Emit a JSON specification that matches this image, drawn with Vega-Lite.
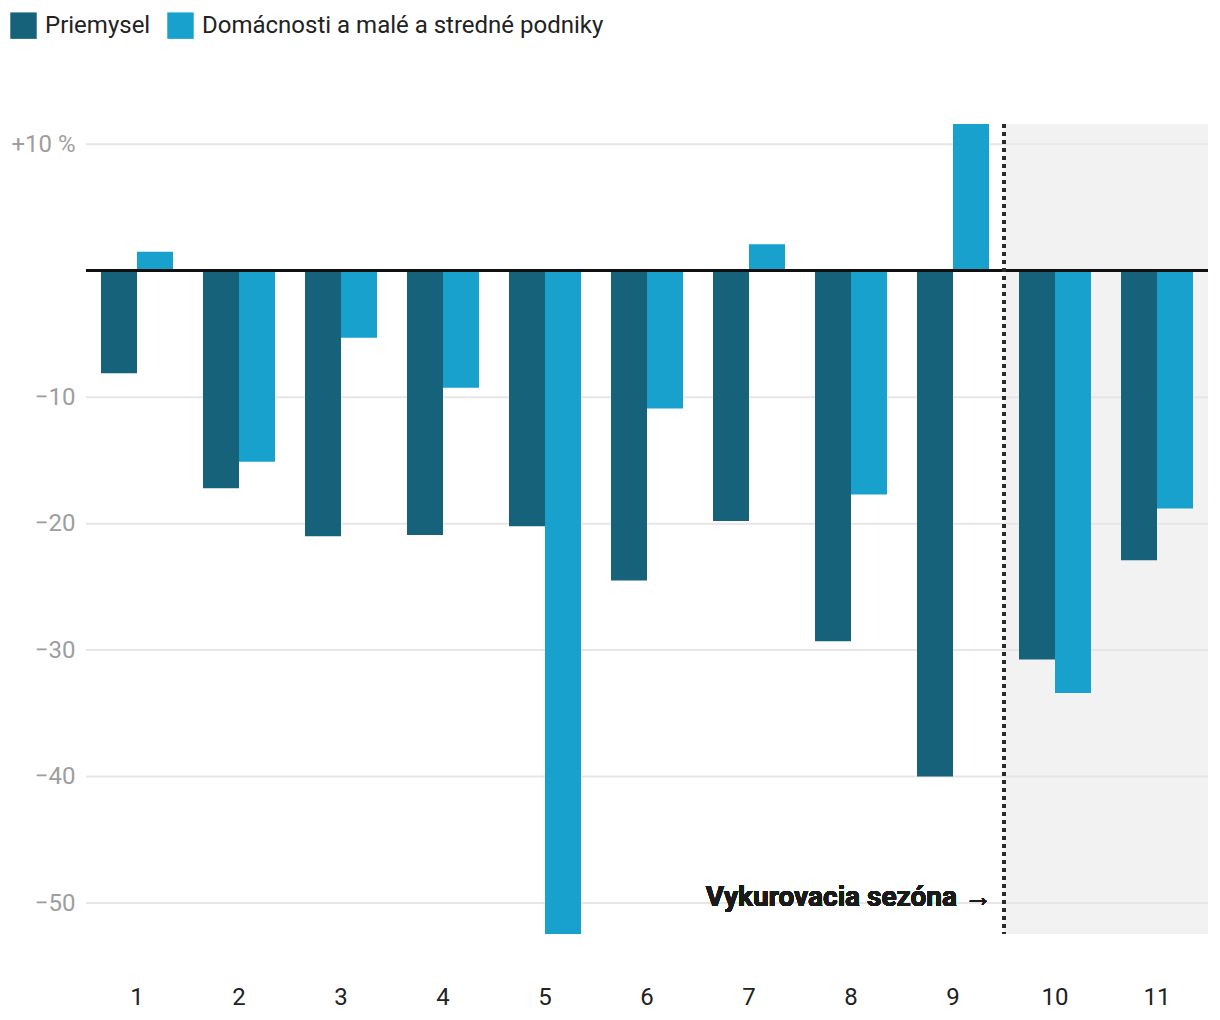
{
  "$schema": "https://vega.github.io/schema/vega-lite/v6.json",
  "width": 1122,
  "height": 810,
  "autosize": {"type": "none"},
  "padding": {"left": 86, "top": 124, "right": 12, "bottom": 86},
  "background": "white",
  "config": {"font": "Roboto", "view": {"stroke": null}},
  "data": {"values": [
    {"m": 1, "s": "Priemysel", "v": -8.1},
    {"m": 1, "s": "Domácnosti a malé a stredné podniky", "v": 1.5},
    {"m": 2, "s": "Priemysel", "v": -17.2},
    {"m": 2, "s": "Domácnosti a malé a stredné podniky", "v": -15.1},
    {"m": 3, "s": "Priemysel", "v": -21.0},
    {"m": 3, "s": "Domácnosti a malé a stredné podniky", "v": -5.3},
    {"m": 4, "s": "Priemysel", "v": -20.9},
    {"m": 4, "s": "Domácnosti a malé a stredné podniky", "v": -9.25},
    {"m": 5, "s": "Priemysel", "v": -20.2},
    {"m": 5, "s": "Domácnosti a malé a stredné podniky", "v": -52.45},
    {"m": 6, "s": "Priemysel", "v": -24.5},
    {"m": 6, "s": "Domácnosti a malé a stredné podniky", "v": -10.9},
    {"m": 7, "s": "Priemysel", "v": -19.8},
    {"m": 7, "s": "Domácnosti a malé a stredné podniky", "v": 2.1},
    {"m": 8, "s": "Priemysel", "v": -29.3},
    {"m": 8, "s": "Domácnosti a malé a stredné podniky", "v": -17.7},
    {"m": 9, "s": "Priemysel", "v": -40.0},
    {"m": 9, "s": "Domácnosti a malé a stredné podniky", "v": 11.6},
    {"m": 10, "s": "Priemysel", "v": -30.75},
    {"m": 10, "s": "Domácnosti a malé a stredné podniky", "v": -33.4},
    {"m": 11, "s": "Priemysel", "v": -22.9},
    {"m": 11, "s": "Domácnosti a malé a stredné podniky", "v": -18.8}
  ]},
  "layer": [
    {
      "data": {"values": [{"m": 10}, {"m": 11}]},
      "mark": {"type": "bar", "color": "#f2f2f2"},
      "encoding": {
        "x": {"field": "m", "type": "ordinal"},
        "y": {"datum": 11.6, "type": "quantitative"},
        "y2": {"datum": -52.45}
      }
    },
    {
      "data": {"values": [{"g": -50}, {"g": -40}, {"g": -30}, {"g": -20}, {"g": -10}, {"g": 10}]},
      "mark": {"type": "rule", "color": "#e6e6e6", "strokeWidth": 2},
      "encoding": {"y": {"field": "g", "type": "quantitative"}}
    },
    {
      "mark": {"type": "bar"},
      "encoding": {
        "x": {
          "field": "m", "type": "ordinal",
          "scale": {"paddingInner": 0, "paddingOuter": 0},
          "axis": {"title": null, "ticks": false, "domain": false, "labelAngle": 0, "labelAlign": "center", "labelBaseline": "top", "labelFontSize": 24, "labelColor": "#222222", "labelPadding": 51, "grid": false}
        },
        "xOffset": {
          "field": "s", "type": "nominal",
          "sort": ["Priemysel", "Domácnosti a malé a stredné podniky"],
          "scale": {"paddingInner": 0, "paddingOuter": 0.4167}
        },
        "y": {
          "field": "v", "type": "quantitative",
          "scale": {"domain": [-52.45, 11.6], "nice": false, "zero": false},
          "axis": {
            "title": null, "grid": false, "ticks": false, "domain": false,
            "values": [-50, -40, -30, -20, -10, 10],
            "labelFontSize": 24, "labelColor": "#9e9e9e", "labelPadding": 11,
            "labelExpr": "datum.value == 10 ? '+10 %' : datum.label"
          }
        },
        "color": {
          "field": "s", "type": "nominal",
          "scale": {"domain": ["Priemysel", "Domácnosti a malé a stredné podniky"], "range": ["#17627b", "#19a1ce"]},
          "legend": {
            "title": null, "orient": "none", "legendX": -76, "legendY": -112,
            "direction": "horizontal", "symbolType": "square", "symbolSize": 700,
            "symbolOpacity": 1, "symbolStrokeWidth": 0, "labelLimit": 0,
            "labelFontSize": 24, "labelColor": "#222222", "labelOffset": 8, "columnPadding": 16
          }
        }
      }
    },
    {
      "mark": {"type": "rule", "color": "#111111", "strokeWidth": 2},
      "encoding": {"y": {"datum": 0, "type": "quantitative"}}
    },
    {
      "mark": {"type": "rule", "color": "#2a2a2a", "strokeWidth": 3, "strokeDash": [4, 4]},
      "encoding": {
        "x": {"datum": 10, "type": "ordinal", "bandPosition": 0},
        "y": {"datum": 11.6, "type": "quantitative"},
        "y2": {"datum": -52.45}
      }
    },
    {
      "mark": {"type": "text", "text": "Vykurovacia sezóna →", "font": "Roboto, Noto Sans", "align": "right", "baseline": "alphabetic", "fontSize": 28, "fontWeight": "bold", "color": "#1a1a1a", "dx": -12},
      "encoding": {
        "x": {"datum": 10, "type": "ordinal", "bandPosition": 0},
        "y": {"datum": -50.2, "type": "quantitative"}
      }
    }
  ]
}
